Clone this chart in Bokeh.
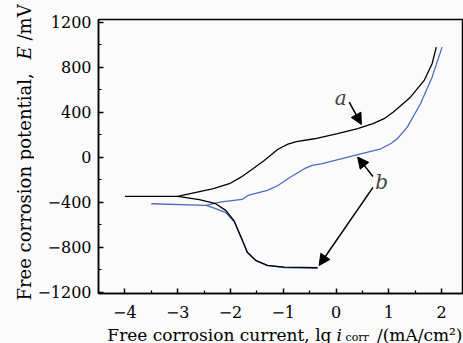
import math
from bokeh.plotting import figure
from bokeh.models import FixedTicker, Label, Arrow, NormalHead, Range1d, Column, Row
from bokeh.embed import file_html
from bokeh.resources import INLINE

# ---- data ----
a_cath_x = [-4.0, -3.0, -2.59, -2.28, -2.09, -1.93, -1.80, -1.68, -1.52, -1.30, -0.98, -0.35]
a_cath_E = [-347, -347, -376, -412, -471, -565, -708, -842, -915, -960, -975, -980]
a_anod_x = [-3.0, -2.72, -2.34, -2.02, -1.80, -1.60, -1.36, -1.10, -0.91, -0.75, -0.41, 0.03, 0.41, 0.70, 0.91, 1.08, 1.23, 1.41, 1.67, 1.82, 1.90]
a_anod_E = [-347, -318, -279, -234, -176, -110, -28, 72, 118, 140, 165, 210, 254, 300, 343, 400, 461, 534, 683, 831, 979]
b_cath_x = [-3.5, -2.46, -2.28, -2.09, -1.93, -1.80, -1.68, -1.52, -1.30, -0.98, -0.35]
b_cath_E = [-412, -427, -456, -490, -570, -712, -845, -918, -962, -978, -985]
b_anod_x = [-2.46, -2.28, -2.17, -1.78, -1.67, -1.30, -1.10, -0.86, -0.60, -0.45, -0.28, 0.41, 0.85, 1.05, 1.16, 1.35, 1.60, 1.82, 2.01]
b_anod_E = [-427, -406, -395, -374, -338, -293, -250, -175, -101, -72, -57, 25, 76, 125, 165, 268, 476, 712, 979]

x_ticks = [-4, -3, -2, -1, 0, 1, 2]
x_minor = [-4.5, -3.5, -2.5, -1.5, -0.5, 0.5, 1.5]
y_ticks = [-1200, -800, -400, 0, 400, 800, 1200]
y_minor = [-1000, -600, -200, 200, 600, 1000]

x_labels = {v: str(v).replace("-", "\u2212") for v in x_ticks}
y_labels = {v: str(v).replace("-", "\u2212") for v in y_ticks}

x_title = "Free corrosion current, lg"
x_title_var = "i"
x_title_sub = "corr"
x_title_unit = "/(mA/cm\u00b2)"
y_title = "Free corrosion potential,"
y_title_var = "E"
y_title_unit = "/mV"

X0, X1 = -4.5, 2.415
Y0, Y1 = -1209, 1224

SERIF = "DejaVu Serif"
BLUE = "#4a6cc2"
BG = "#fbfbfb"

PAGE_W, PAGE_H = 463, 343
LEFT_W = 34
TOP_H = 325
BOT_H = PAGE_H - TOP_H

p = figure(width=PAGE_W - LEFT_W, height=TOP_H, x_range=(X0, X1), y_range=(Y0, Y1),
           output_backend="svg", toolbar_location=None,
           min_border_left=97 - LEFT_W, min_border_right=0, min_border_top=19,
           min_border_bottom=TOP_H - 293)
p.background_fill_color = BG
p.border_fill_color = BG
p.outline_line_color = "black"
p.outline_line_width = 1.5
p.xgrid.visible = False
p.ygrid.visible = False

for ax in (p.xaxis[0], p.yaxis[0]):
    ax.axis_line_width = 1.5
    ax.axis_line_color = "black"
    ax.major_tick_in = 5
    ax.major_tick_out = 0
    ax.minor_tick_in = 3
    ax.minor_tick_out = 0
    ax.major_tick_line_width = 1.5
    ax.minor_tick_line_width = 1.2
    ax.major_tick_line_color = "black"
    ax.minor_tick_line_color = "black"
    ax.major_label_text_font = SERIF
    ax.major_label_text_font_size = "16px"
    ax.major_label_text_color = "black"

p.xaxis[0].ticker = FixedTicker(ticks=x_ticks, minor_ticks=x_minor)
p.yaxis[0].ticker = FixedTicker(ticks=y_ticks, minor_ticks=y_minor)
p.xaxis[0].major_label_overrides = x_labels
p.yaxis[0].major_label_overrides = y_labels
p.xaxis[0].major_label_standoff = 12
p.yaxis[0].major_label_standoff = 7

p.line(b_cath_x, b_cath_E, line_color=BLUE, line_width=1.3)
p.line(b_anod_x, b_anod_E, line_color=BLUE, line_width=1.3)
p.line(a_cath_x, a_cath_E, line_color="black", line_width=1.3)
p.line(a_anod_x, a_anod_E, line_color="black", line_width=1.3)

FL, FT = 97.0, 19.0
SX = 366.0 / (X1 - X0)
SY = 274.0 / (Y1 - Y0)
def dx(px):
    return X0 + (px - FL) / SX
def dy(py):
    return Y1 - (py - FT) / SY

def arrow(x0, y0, x1, y1):
    p.add_layout(Arrow(end=NormalHead(size=11, fill_color="black", line_color="black", line_width=1),
                       x_start=x0, y_start=y0, x_end=x1, y_end=y1,
                       line_color="black", line_width=1.5))

arrow(0.25, 490, 0.48, 292)
arrow(0.70, -170, 0.41, 2)
arrow(0.70, -267, -0.32, -960)

p.add_layout(Label(x=dx(340), y=dy(97), text="a", text_font=SERIF, text_font_style="italic",
                   text_font_size="20px", text_align="center", text_baseline="middle"))
p.add_layout(Label(x=dx(381), y=dy(181), text="b", text_font=SERIF, text_font_style="italic",
                   text_font_size="20px", text_align="center", text_baseline="middle"))

def strip(w, h):
    f = figure(width=w, height=h, x_range=Range1d(0, w), y_range=Range1d(0, h),
               output_backend="svg", toolbar_location=None,
               x_axis_type=None, y_axis_type=None,
               min_border_left=0, min_border_right=0, min_border_top=0, min_border_bottom=0)
    f.background_fill_color = BG
    f.border_fill_color = BG
    f.outline_line_color = None
    f.xgrid.visible = False
    f.ygrid.visible = False
    return f

def lab(f, x, y, t, size="18px", style="normal", align="left", angle=0.0):
    f.add_layout(Label(x=x, y=y, text=t, text_font=SERIF, text_font_style=style,
                       text_font_size=size, text_align=align, text_baseline="alphabetic",
                       angle=angle, text_color="black"))

ys = strip(LEFT_W, TOP_H)
lab(ys, 24, TOP_H - 300, y_title, angle=math.pi / 2)
lab(ys, 24, TOP_H - 59, y_title_var, style="italic", angle=math.pi / 2)
lab(ys, 24, TOP_H - 40, y_title_unit, angle=math.pi / 2)

xs = strip(PAGE_W, BOT_H)
base = 9.0
lab(xs, 331, base, x_title, size="17px", align="right")
lab(xs, 336, base, x_title_var, size="17px", style="italic")
lab(xs, 345, base - 2.5, x_title_sub, size="11px")
lab(xs, 462, base, x_title_unit, size="17px", align="right")

top = Row(children=[Column(children=[ys]), Column(children=[p])])
layout = Column(children=[top, Column(children=[xs])])
open("out.html", "w").write(file_html(layout, INLINE))
